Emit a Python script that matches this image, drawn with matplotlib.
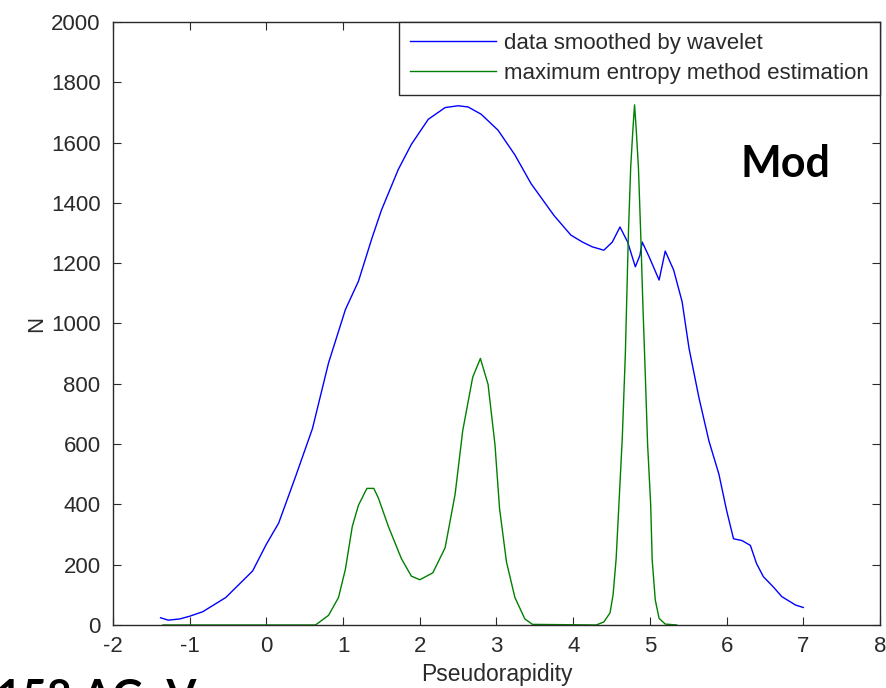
import matplotlib
matplotlib.use("Agg")
import matplotlib.pyplot as plt

# curve
blue_x = [-1.38, -1.28, -1.13, -1.0, -0.83, -0.53, -0.18, 0.0, 0.16, 0.38, 0.6, 0.81,
          1.03, 1.2, 1.375, 1.5, 1.72, 1.89, 2.11, 2.33, 2.5, 2.63, 2.8, 3.02, 3.24,
          3.45, 3.75, 3.97, 4.12, 4.25, 4.4, 4.51, 4.61, 4.71, 4.81, 4.87, 4.9, 4.99,
          5.12, 5.2, 5.31, 5.42, 5.51, 5.64, 5.77, 5.9, 6.0, 6.09, 6.2, 6.31, 6.39,
          6.48, 6.61, 6.72, 6.9, 7.0]
blue_y = [24, 16, 20, 29, 44, 91, 179, 268, 338, 492, 651, 869,
          1046, 1140, 1282, 1376, 1511, 1594, 1677, 1716, 1722, 1718, 1694, 1641, 1559,
          1464, 1358, 1293, 1270, 1254, 1243, 1270, 1320, 1270, 1188, 1226, 1270, 1221,
          1144, 1240, 1177, 1072, 918, 753, 610, 500, 380, 286, 280, 264, 204,
          160, 126, 94, 66, 58]

green_x = [-1.35, 0.64, 0.81, 0.94, 1.03, 1.12, 1.2, 1.31, 1.4, 1.46, 1.59, 1.76, 1.89,
           2.0, 2.17, 2.33, 2.46, 2.56, 2.69, 2.79, 2.89, 2.98, 3.04, 3.13, 3.24, 3.37,
           3.47, 4.3, 4.4, 4.48, 4.52, 4.56, 4.6, 4.64, 4.68, 4.72, 4.75, 4.78, 4.8,
           4.82, 4.85, 4.88, 4.91, 4.94, 4.97, 5.01, 5.03, 5.07, 5.12, 5.2, 5.35]
green_y = [0, 0, 32, 91, 185, 327, 397, 453, 453, 421, 327, 220, 162,
           150, 173, 256, 433, 645, 822, 884, 798, 598, 386, 209, 91, 20,
           2, 0, 10, 40, 100, 220, 420, 620, 900, 1300, 1520, 1650, 1725,
           1650, 1520, 1300, 1050, 830, 600, 400, 215, 83, 22, 3, 0]

x_ticks = [-2, -1, 0, 1, 2, 3, 4, 5, 6, 7, 8]
y_ticks = [0, 200, 400, 600, 800, 1000, 1200, 1400, 1600, 1800, 2000]

plt.rcParams['font.family'] = ['Liberation Sans', 'DejaVu Sans']
plt.rcParams['axes.unicode_minus'] = False

fig = plt.figure(figsize=(8.87, 6.88), dpi=100)
ax = fig.add_axes([0.1274, 0.0916, 0.8647, 0.8765])

ax.plot(blue_x, blue_y, color=(0, 0, 1), lw=1.0, label='data smoothed by wavelet')
ax.plot(green_x, green_y, color=(0, 0.5, 0), lw=1.0, label='maximum entropy method estimation')

ax.set_xlim(-2, 8)
ax.set_ylim(0, 2000)
ax.set_xticks(x_ticks)
ax.set_yticks(y_ticks)
ax.tick_params(direction='in', top=True, right=True, length=6, labelsize=16,
               colors='#2a2a2a')
ax.tick_params(axis='y', pad=9)
ax.tick_params(axis='x', pad=8)
for s in ax.spines.values():
    s.set_linewidth(1.0)
    s.set_color('#2a2a2a')

ax.set_xlabel('Pseudorapidity', fontsize=16.5, labelpad=4, color='#2a2a2a')
ax.set_ylabel('N', fontsize=16, labelpad=3, color='#2a2a2a')

leg = ax.legend(loc='upper right', bbox_to_anchor=(1, 1), borderaxespad=0,
                fontsize=16, fancybox=False, framealpha=1, edgecolor='#2a2a2a',
                handlelength=3.9, handletextpad=0.35, borderpad=0.5,
                labelspacing=0.4)
leg.get_frame().set_linewidth(1.0)
for t in leg.get_texts():
    t.set_color('#2a2a2a')

fig.text(0.835, 0.7427, 'Mod', fontsize=31, fontweight='bold', family='Lato',
         va='baseline', ha='left')
fig.text(-0.003, -0.034, '158 AGeV', fontsize=31, fontweight='bold', family='Lato',
         va='baseline', ha='left')

fig.savefig('out.png', dpi=100)
